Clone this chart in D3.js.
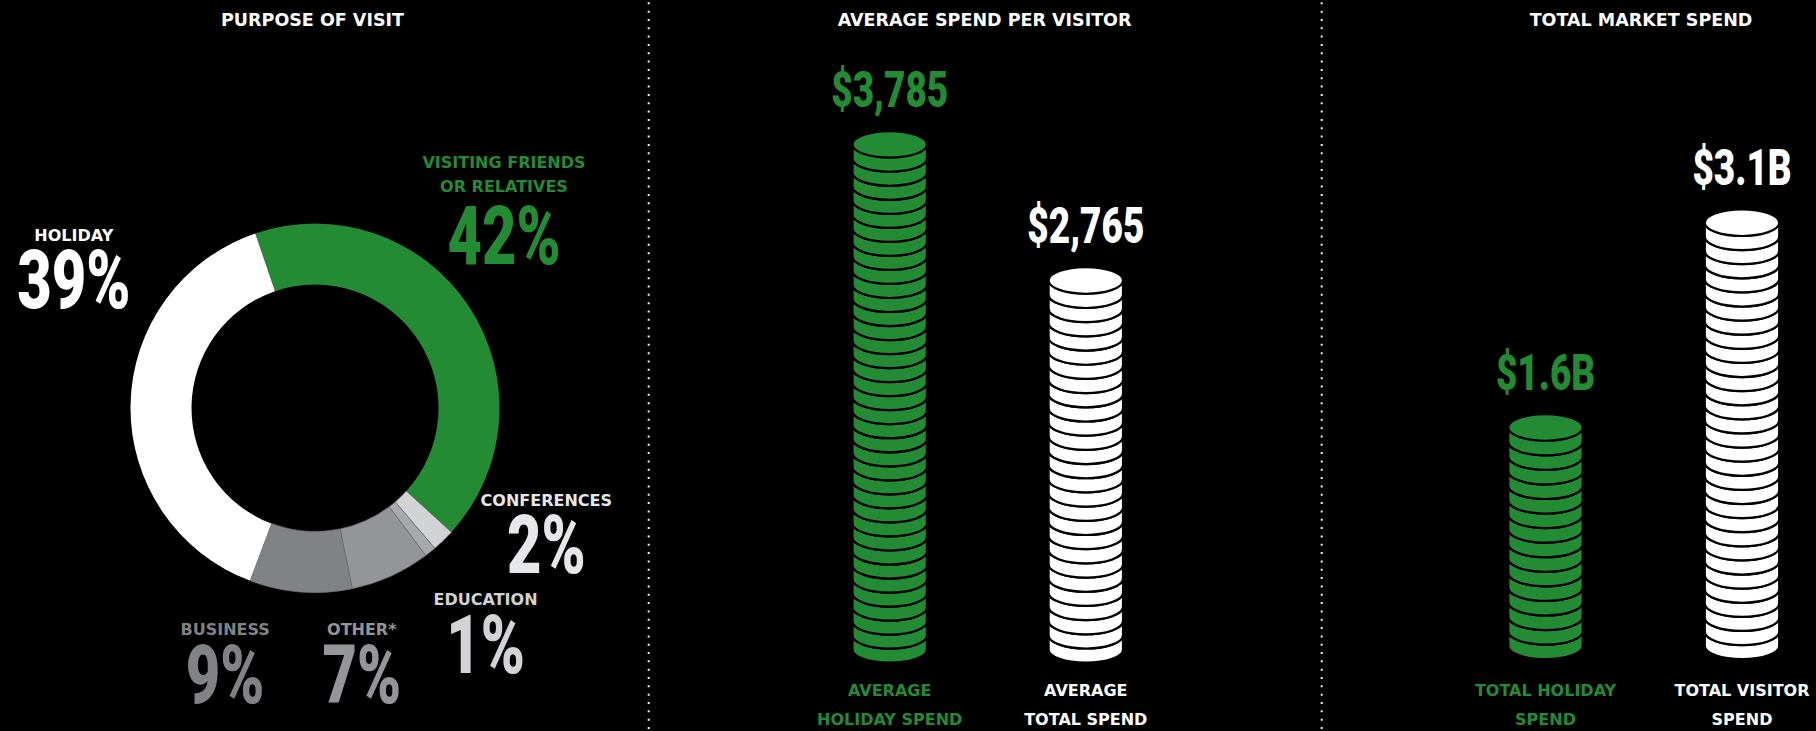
<!DOCTYPE html>
<html>
<head>
<meta charset="utf-8">
<script src="https://cdn.jsdelivr.net/npm/d3@7"></script>
<style>
  html, body { margin: 0; padding: 0; background: #000; }
  svg { display: block; }
</style>
</head>
<body>
<svg id="chart" width="1816" height="731"></svg>
<script>
// ---- Purpose of visit (share of visitors, %) ----
const purposeNames  = ["Visiting friends or relatives", "Conferences", "Education", "Other*", "Business", "Holiday"];
const purposeLabels = [["VISITING FRIENDS", "OR RELATIVES"], ["CONFERENCES"], ["EDUCATION"], ["OTHER*"], ["BUSINESS"], ["HOLIDAY"]];
const purposeShares = [42, 2, 1, 7, 9, 39];

// ---- Average spend per visitor (AUD) ----
const avgNames  = ["Average holiday spend", "Average total spend"];
const avgLabels = [["AVERAGE", "HOLIDAY SPEND"], ["AVERAGE", "TOTAL SPEND"]];
const avgValues = [3785, 2765];

// ---- Total market spend (AUD billions) ----
const totalNames  = ["Total holiday spend", "Total visitor spend"];
const totalLabels = [["TOTAL HOLIDAY", "SPEND"], ["TOTAL VISITOR", "SPEND"]];
const totalValues = [1.6, 3.1];

// ---- Styling ----
const GREEN = "#238b33";
const sliceColors = [GREEN, "#d1d3d4", "#a7a9ac", "#939598", "#808285", "#ffffff"];
const labelColors = [GREEN, "#e6e7e8", "#d1d3d4", "#939598", "#808285", "#ffffff"];
const stackColors = [GREEN, "#ffffff"];
const LABEL_FONT = "'DejaVu Sans', sans-serif";
const NUM_FONT = "Roboto, 'Liberation Sans', sans-serif";
const SQUEEZE = 0.73;   // horizontal compression for the big figures

const svg = d3.select("#chart");
svg.append("rect").attr("width", 1816).attr("height", 731).attr("fill", "#000");

// dotted column dividers
[648.7, 1321.7].forEach(x => {
  svg.append("line")
    .attr("x1", x).attr("x2", x).attr("y1", 2.3).attr("y2", 731)
    .attr("stroke", "#f2f2f2").attr("stroke-width", 2)
    .attr("stroke-dasharray", "2 6.33");
});

function title(x, text) {
  svg.append("text")
    .attr("x", x).attr("y", 25.7)
    .attr("text-anchor", "middle")
    .style("font-family", LABEL_FONT).style("font-weight", 700).style("font-size", "17.5px")
    .attr("fill", "#fff")
    .text(text);
}
title(312.5, "PURPOSE OF VISIT");
title(984.6, "AVERAGE SPEND PER VISITOR");
title(1641, "TOTAL MARKET SPEND");

function smallLabel(g, x, y, lines, color, lineGap) {
  lines.forEach((t, i) => {
    g.append("text")
      .attr("x", x).attr("y", y + i * lineGap)
      .attr("text-anchor", "middle")
      .style("font-family", LABEL_FONT).style("font-weight", 700).style("font-size", "16px")
      .attr("fill", color)
      .text(t);
  });
}

function bigFigure(g, x, y, text, size, color) {
  g.append("text")
    .attr("transform", `translate(${x},${y}) scale(${SQUEEZE},1)`)
    .attr("text-anchor", "middle")
    .style("font-family", NUM_FONT).style("font-weight", 900).style("font-size", size + "px")
    .attr("fill", color)
    .text(text);
}

// ================= Donut: purpose of visit =================
const donut = svg.append("g").attr("transform", "translate(315,408)");
const start = -18.9 * Math.PI / 180;
const pie = d3.pie().sort(null).value(d => d).startAngle(start).endAngle(start + 2 * Math.PI);
const arc = d3.arc().innerRadius(123.5).outerRadius(184.5);

donut.selectAll("path")
  .data(pie(purposeShares))
  .join("path")
  .attr("d", arc)
  .attr("fill", (d, i) => sliceColors[i])
  .attr("stroke", (d, i) => (i >= 1 && i <= 4) ? "#6d6e71" : "none")
  .attr("stroke-width", 0.7);

// label anchors around the ring (name baseline, figure baseline)
const purposeAnchors = [
  { x: 504,   nameY: 168.3, pctY: 264 },
  { x: 546.3, nameY: 506,   pctY: 573 },
  { x: 485.6, nameY: 605,   pctY: 672.5 },
  { x: 361.8, nameY: 635,   pctY: 702.5 },
  { x: 225.2, nameY: 635,   pctY: 702.5 },
  { x: 73.8,  nameY: 241,   pctY: 308 }
];
const donutLabels = svg.append("g");
purposeShares.forEach((v, i) => {
  const a = purposeAnchors[i];
  smallLabel(donutLabels, a.x, a.nameY, purposeLabels[i], labelColors[i], 24);
  bigFigure(donutLabels, a.x, a.pctY, v + "%", 81.5, labelColors[i]);
});

// ================= Coin stacks =================
const COIN_RX = 37.2, COIN_RY = 13.3, COIN_T = 14.2;

// one coin = side band with rounded bottom + top face; drawn bottom-up so
// each coin's outline leaves a dark groove on the coin beneath it
function drawStack(g, cx, yTop, yBot, color) {
  const h = yBot - yTop;
  const n = Math.max(1, Math.round(h / COIN_T));
  const t = h / n;
  for (let i = 0; i < n; i++) {
    const yb = yBot - i * t, yt = yb - t;
    g.append("path")
      .attr("d", `M${cx - COIN_RX},${yt}L${cx - COIN_RX},${yb}A${COIN_RX},${COIN_RY} 0 0 0 ${cx + COIN_RX},${yb}L${cx + COIN_RX},${yt}Z`)
      .attr("fill", color).attr("stroke", "#000").attr("stroke-width", 2.2);
    g.append("ellipse")
      .attr("cx", cx).attr("cy", yt).attr("rx", COIN_RX).attr("ry", COIN_RY)
      .attr("fill", color).attr("stroke", "#000").attr("stroke-width", 2.2);
  }
}

function stackPanel(names, labels, values, fmt, xRange, yBottom, yTopOfMax, maxValue) {
  const x = d3.scalePoint().domain(names).range(xRange);
  const y = d3.scaleLinear().domain([0, maxValue]).range([yBottom, yTopOfMax]);
  const g = svg.append("g");
  names.forEach((name, i) => {
    const cx = x(name);
    const yTop = y(values[i]);
    drawStack(g, cx, yTop, y(0), stackColors[i]);
    bigFigure(g, cx, yTop - COIN_RY - 24.5, fmt(values[i]), 50.6, stackColors[i]);
    smallLabel(g, cx, 696, labels[i], stackColors[i], 29);
  });
}

stackPanel(avgNames, avgLabels, avgValues, d3.format("$,"), [889.7, 1085.8], 649.4, 144.4, 3785);
stackPanel(totalNames, totalLabels, totalValues, v => "$" + v.toFixed(1) + "B", [1545.5, 1742], 645.9, 222.7, 3.1);
</script>
</body>
</html>
